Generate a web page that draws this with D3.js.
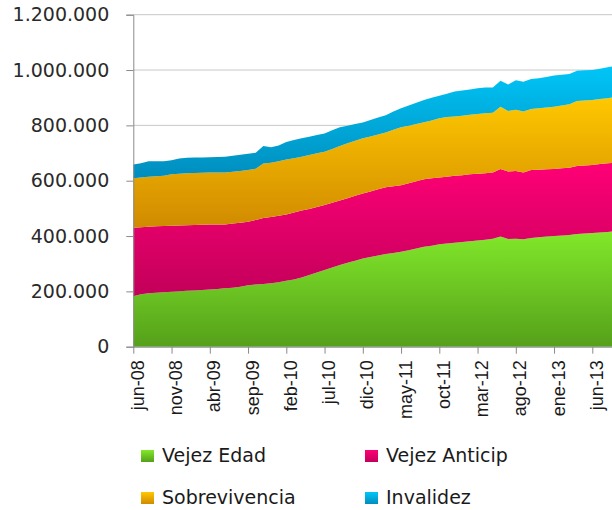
<!DOCTYPE html>
<html>
<head>
<meta charset="utf-8">
<script src="https://cdn.jsdelivr.net/npm/d3@7"></script>
<style>
  body { margin: 0; background: #fff; }
  svg { display: block; }
</style>
</head>
<body>
<svg id="chart" width="612" height="510"></svg>
<script>
// monthly figures, thousands of people, jun-08 .. sep-13
const vejezEdad = [
    182, 190, 193, 195, 197, 199, 200, 202, 203, 205,
    207, 209, 211, 213, 217, 222, 225, 227, 229, 233,
    238, 243, 250, 259, 268, 277, 286, 295, 303, 311,
    319, 324, 330, 335, 339, 343, 349, 355, 361, 365,
    370, 373, 376, 378, 381, 384, 387, 390, 398, 389,
    390, 388, 393, 396, 398, 400, 402, 404, 407, 409,
    411, 413, 415, 417
];
const vejezAnticip = [
    248, 242, 241, 240, 239, 238, 238, 237, 237, 236,
    235, 233, 231, 232, 231, 230, 233, 238, 240, 240,
    240, 242, 242, 239, 237, 235, 234, 233, 234, 235,
    235, 237, 239, 241, 241, 241, 242, 243, 244, 244,
    242, 241, 242, 242, 242, 241, 240, 240, 244, 244,
    245, 242, 246, 244, 243, 242, 243, 243, 246, 246,
    246, 247, 248, 248
];
const sobrevivencia = [
    179, 180, 180, 181, 182, 186, 187, 188, 188, 188,
    188, 188, 188, 187, 187, 187, 185, 197, 196, 197,
    199, 196, 195, 195, 194, 193, 195, 197, 198, 198,
    199, 199, 198, 198, 204, 209, 208, 207, 206, 209,
    214, 216, 214, 215, 215, 216, 217, 216, 225, 219,
    221, 220, 220, 222, 224, 225, 227, 229, 235, 235,
    235, 235, 235, 237
];
const invalidez = [
    50, 51, 56, 54, 52, 51, 55, 56, 56, 55,
    55, 56, 57, 58, 59, 58, 58, 63, 56, 57,
    63, 66, 66, 66, 66, 66, 67, 68, 64, 61,
    57, 59, 61, 63, 66, 69, 73, 77, 81, 82,
    81, 84, 90, 91, 92, 93, 93, 91, 94, 96,
    107, 108, 109, 108, 110, 113, 111, 110, 109, 109,
    108, 110, 112, 113
];

const seriesNames = ['Vejez Edad', 'Vejez Anticip', 'Sobrevivencia', 'Invalidez'];
const seriesValues = [vejezEdad, vejezAnticip, sobrevivencia, invalidez];
const tickLabels = ['jun-08', 'nov-08', 'abr-09', 'sep-09', 'feb-10', 'jul-10', 'dic-10',
                    'may-11', 'oct-11', 'mar-12', 'ago-12', 'ene-13', 'jun-13'];
const yTicks = [0, 200000, 400000, 600000, 800000, 1000000, 1200000];

const mesAbrev = ['ene', 'feb', 'mar', 'abr', 'may', 'jun', 'jul', 'ago', 'sep', 'oct', 'nov', 'dic'];
const months = d3.range(vejezEdad.length).map(i => {
    const m = 5 + i;
    return `${mesAbrev[m % 12]}-${String(8 + Math.floor(m / 12)).padStart(2, '0')}`;
});

const gradients = [
    ['#82e82a', '#55a01a'],
    ['#ff0076', '#c2005a'],
    ['#ffc800', '#d08a00'],
    ['#00c6f8', '#008dbd'],
];

const table = months.map((m, i) => {
    const row = {i: i};
    seriesNames.forEach((name, k) => { row[name] = seriesValues[k][i] * 1000; });
    return row;
});

const svg = d3.select('#chart');
const x = d3.scaleLinear().domain([0, months.length - 1]).range([133.3, 133.3 + 7.65 * (months.length - 1)]);
const y = d3.scaleLinear().domain([0, 1200000]).range([346.7, 14.7]);

const defs = svg.append('defs');
gradients.forEach((g, k) => {
    const lg = defs.append('linearGradient')
        .attr('id', `grad${k}`)
        .attr('x1', 0).attr('y1', 0).attr('x2', 0).attr('y2', 1);
    lg.append('stop').attr('offset', '0%').attr('stop-color', g[0]);
    lg.append('stop').attr('offset', '100%').attr('stop-color', g[1]);
});

// gridlines
svg.append('g')
    .selectAll('line')
    .data(yTicks.filter(v => v > 0))
    .join('line')
    .attr('x1', x(0)).attr('x2', 612)
    .attr('y1', d => y(d)).attr('y2', d => y(d))
    .attr('stroke', '#c8c8c8')
    .attr('stroke-width', 1);

const stack = d3.stack().keys(seriesNames);
const layers = stack(table);
const area = d3.area()
    .x(d => x(d.data.i))
    .y0(d => y(d[0]))
    .y1(d => y(d[1]));

svg.append('g')
    .selectAll('path')
    .data(layers)
    .join('path')
    .attr('d', area)
    .attr('fill', (d, k) => `url(#grad${k})`);

const locale = d3.formatLocale({decimal: ',', thousands: '.', grouping: [3], currency: ['$', '']});
const fmt = locale.format(',.0f');

const yAxis = svg.append('g')
    .attr('transform', `translate(${x(0)},0)`)
    .call(d3.axisLeft(y).tickValues(yTicks).tickFormat(fmt).tickSize(7).tickPadding(17));
yAxis.select('.domain').attr('stroke', '#8a8a8a');
yAxis.selectAll('.tick line').attr('stroke', '#8a8a8a');
yAxis.selectAll('text')
    .attr('font-family', 'DejaVu Sans')
    .attr('font-size', 19)
    .attr('fill', '#2a2a2a');

const tickIdx = tickLabels.map(t => months.indexOf(t));
const xAxis = svg.append('g')
    .attr('transform', `translate(0,${y(0)})`)
    .call(d3.axisBottom(x).tickValues(tickIdx).tickFormat(i => months[i]).tickSize(7).tickSizeOuter(0));
xAxis.select('.domain').attr('stroke', '#8a8a8a').attr('d', `M${x(0)},0.5H612`);
xAxis.selectAll('.tick line').attr('stroke', '#8a8a8a');
xAxis.selectAll('text')
    .attr('font-family', 'Liberation Sans')
    .attr('font-size', 18)
    .attr('fill', '#1a1a1a')
    .attr('text-anchor', 'end')
    .attr('dy', null)
    .attr('y', null)
    .attr('transform', 'translate(10,13.5) rotate(-90)');

// legend
const legend = svg.append('g')
    .selectAll('g')
    .data(seriesNames)
    .join('g')
    .attr('transform', (d, k) => `translate(${k % 2 ? 365 : 141},${k < 2 ? 450 : 492})`);
legend.append('rect')
    .attr('width', 13).attr('height', 12)
    .attr('fill', (d, k) => `url(#grad${k})`);
legend.append('text')
    .attr('x', 21).attr('y', 12)
    .attr('font-family', 'DejaVu Sans')
    .attr('font-size', 19)
    .attr('fill', '#1a1a1a')
    .text(d => d);
</script>
</body>
</html>
